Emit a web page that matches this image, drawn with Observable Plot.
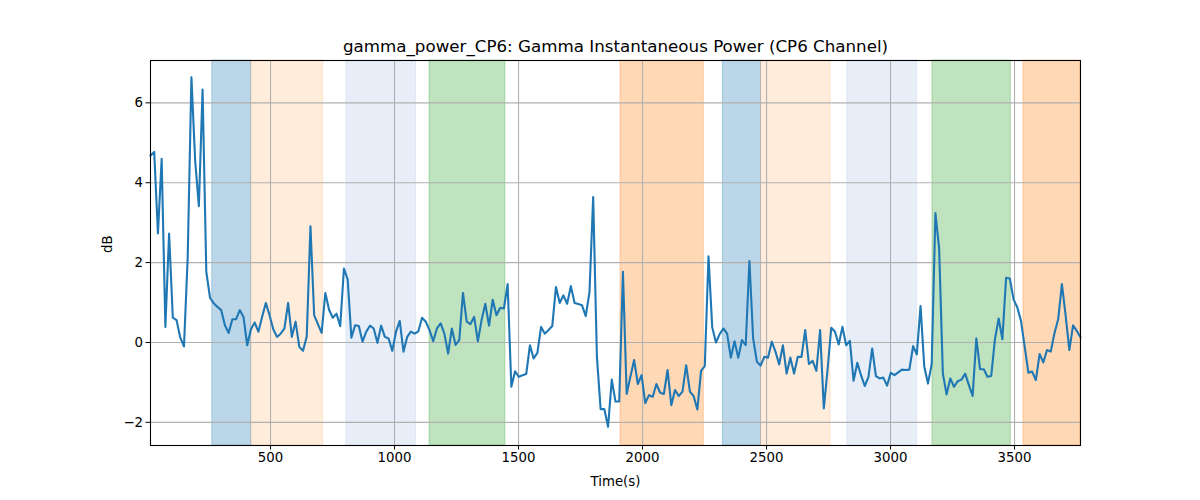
<!DOCTYPE html>
<html>
<head>
<meta charset="utf-8">
<script src="https://cdn.jsdelivr.net/npm/d3@7"></script>
<script src="https://cdn.jsdelivr.net/npm/@observablehq/plot@0.6"></script>
<style>
  html, body { margin: 0; padding: 0; background: #fff; }
  #chart { width: 1200px; height: 500px; }
</style>
</head>
<body>
<div id="chart"></div>
<script>
// ---- data ----
const titleText = "gamma_power_CP6: Gamma Instantaneous Power (CP6 Channel)";
const xLabel = "Time(s)";
const yLabel = "dB";

const timeStart = 16;   // s, first sample
const timeStep = 15;    // s, sample spacing

const powerDb = [
  4.68, 4.77, 2.73, 4.60, 0.39, 2.73, 0.62, 0.56, 0.12, -0.10,
  2.14, 6.64, 4.56, 3.41, 6.33, 1.77, 1.12, 0.98, 0.89, 0.81,
  0.43, 0.24, 0.58, 0.58, 0.81, 0.64, -0.07, 0.33, 0.50, 0.27,
  0.64, 0.99, 0.68, 0.33, 0.14, 0.22, 0.35, 0.99, 0.14, 0.52,
  -0.11, -0.21, 0.15, 2.91, 0.68, 0.46, 0.24, 1.24, 0.82, 0.62,
  0.72, 0.41, 1.85, 1.58, 0.12, 0.43, 0.41, 0.02, 0.27, 0.42,
  0.35, -0.01, 0.42, 0.14, 0.10, -0.21, 0.27, 0.54, -0.23, 0.14,
  0.27, 0.22, 0.28, 0.62, 0.52, 0.31, 0.03, 0.35, 0.48, 0.22,
  -0.28, 0.35, -0.06, 0.06, 1.24, 0.52, 0.46, 0.64, 0.03, 0.56,
  0.97, 0.42, 1.07, 0.68, 0.87, 0.85, 1.46, -1.11, -0.72, -0.86,
  -0.82, -0.79, -0.07, -0.40, -0.26, 0.39, 0.22, 0.31, 0.41, 1.39,
  0.99, 1.18, 0.97, 1.41, 0.99, 0.96, 0.93, 0.66, 1.25, 3.64,
  -0.36, -1.67, -1.67, -2.11, -0.93, -1.48, -1.48, 1.77, -1.29, -0.86,
  -0.44, -1.04, -0.82, -1.52, -1.32, -1.36, -1.04, -1.26, -1.29, -0.69,
  -1.57, -1.19, -1.34, -1.23, -0.57, -1.23, -1.34, -1.68, -0.71, -0.59,
  2.16, 0.38, 0.00, 0.21, 0.35, 0.22, -0.38, 0.03, -0.38, 0.06,
  -0.07, 2.04, 0.10, -0.48, -0.58, -0.36, -0.38, 0.02, -0.23, -0.55,
  -0.07, -0.78, -0.38, -0.78, -0.36, -0.36, 0.31, -0.54, -0.46, -0.71,
  0.31, -1.65, -0.69, 0.37, 0.27, -0.05, 0.39, -0.07, 0.04, -0.96,
  -0.51, -0.82, -1.09, -0.86, -0.15, -0.84, -0.90, -0.88, -1.08, -0.76,
  -0.82, -0.75, -0.68, -0.69, -0.68, -0.09, -0.30, 0.91, -0.60, -1.03,
  -0.54, 3.24, 2.35, -0.78, -1.30, -0.90, -1.11, -0.97, -0.93, -0.78,
  -1.07, -1.34, 0.10, -0.67, -0.67, -0.86, -0.84, 0.08, 0.60, 0.08,
  1.62, 1.60, 1.08, 0.88, 0.54, -0.11, -0.76, -0.73, -0.94, -0.29,
  -0.50, -0.19, -0.23, 0.23, 0.58, 1.46, 0.68, -0.19, 0.43, 0.29,
  0.13
];

// shaded epochs (start, end in s) and their kind
const bandStart = [265, 422, 806, 1141, 1911, 2324, 2478, 2826, 3169, 3536];
const bandEnd   = [422, 712, 1087, 1447, 2247, 2478, 2758, 3107, 3485, 3766];
const bandKind  = ["A", "B", "C", "D", "E", "A", "B", "C", "D", "E"];

const xTicks = [500, 1000, 1500, 2000, 2500, 3000, 3500];
const yTicks = [-2, 0, 2, 4, 6];
const xDomain = [16, 3766];
const yDomain = [-2.58, 7.06];

// ---- styles ----
const kindStyle = {
  A: {color: "#1f77b4", opacity: 0.3},
  B: {color: "#ff7f0e", opacity: 0.15},
  C: {color: "#aec7e8", opacity: 0.3},
  D: {color: "#2ca02c", opacity: 0.3},
  E: {color: "#ff7f0e", opacity: 0.3}
};

const series = powerDb.map((v, i) => ({t: timeStart + i * timeStep, v}));
const bands = bandStart.map((s, i) => ({start: s, end: bandEnd[i], kind: bandKind[i]}));

const fmt = d => (d < 0 ? "\u2212" + Math.abs(d) : String(d));

const bandMarks = Object.keys(kindStyle).map(k =>
  Plot.rect(bands.filter(b => b.kind === k), {
    x1: "start", x2: "end",
    fill: kindStyle[k].color, fillOpacity: kindStyle[k].opacity,
    stroke: kindStyle[k].color, strokeOpacity: kindStyle[k].opacity, strokeWidth: 1
  })
);

const chart = Plot.plot({
  width: 1200,
  height: 500,
  marginLeft: 150,
  marginRight: 120,
  marginTop: 60,
  marginBottom: 55,
  style: {fontFamily: "DejaVu Sans, sans-serif", fontSize: "13.3px", color: "#000", background: "#fff"},
  x: {domain: xDomain},
  y: {domain: yDomain},
  marks: [
    ...bandMarks,
    Plot.gridX(xTicks, {stroke: "#b0b0b0", strokeOpacity: 1, strokeWidth: 1.1}),
    Plot.gridY(yTicks, {stroke: "#b0b0b0", strokeOpacity: 1, strokeWidth: 1.1}),
    Plot.line(series, {x: "t", y: "v", stroke: "#1f77b4", strokeWidth: 2.1}),
    Plot.frame({stroke: "#000", strokeWidth: 1.1}),
    Plot.axisX(xTicks, {tickSize: 4.5, tickPadding: 3, tickFormat: fmt, label: null, fontSize: 13.3, stroke: "#000"}),
    Plot.axisY(yTicks, {tickSize: 4.5, tickPadding: 3, tickFormat: fmt, label: null, fontSize: 13.3, stroke: "#000"}),
    Plot.text([titleText], {text: d => d, frameAnchor: "top", lineAnchor: "middle", dy: -14, fontSize: 16.7, fill: "#000"}),
    Plot.text([xLabel], {text: d => d, frameAnchor: "bottom", lineAnchor: "middle", dy: 36, fontSize: 13.3, fill: "#000"}),
    Plot.text([yLabel], {text: d => d, frameAnchor: "left", lineAnchor: "middle", dx: -43, rotate: -90, fontSize: 13.3, fill: "#000"})
  ]
});

document.getElementById("chart").appendChild(chart);
</script>
</body>
</html>
